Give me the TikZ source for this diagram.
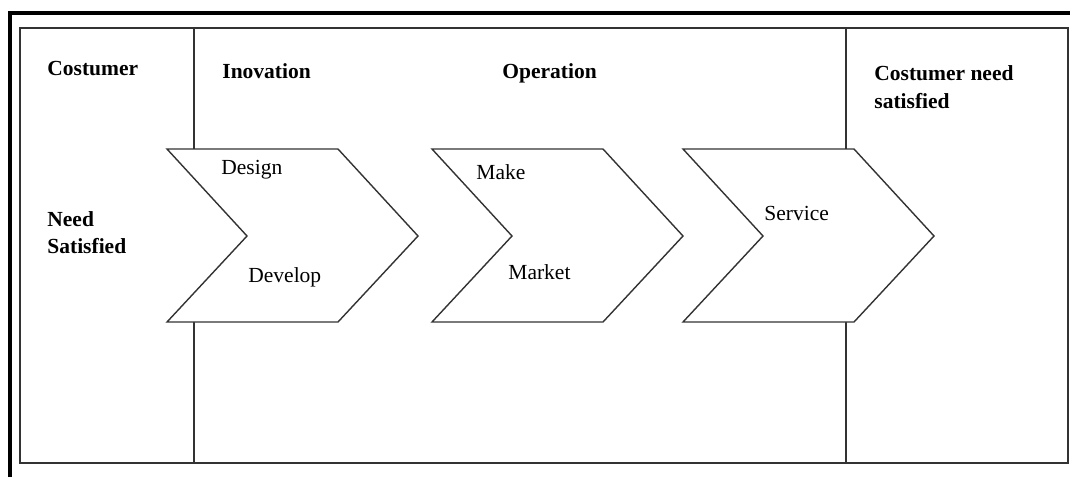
\documentclass[tikz,border=0pt]{standalone}
\usepackage{fontspec}
\setmainfont{Liberation Serif}
\begin{document}
\begin{tikzpicture}[x=0.5pt,y=-0.5pt,
  rule/.style={draw=black!80, line width=0.7pt},
  frameline/.style={draw=black, line width=2pt, line join=miter},
  chevron/.style={rule, fill=white, line join=miter},
  head/.style={anchor=base west, inner sep=0pt, font=\fontsize{10.75}{13}\selectfont\bfseries},
  lbl/.style={anchor=base west, inner sep=0pt, font=\fontsize{10.75}{13}\selectfont}]
\useasboundingbox (0,0) rectangle (1070,477);
% heavy frame along the top and left
\draw[frameline] (10,477) -- (10,13) -- (1070,13);
% outer box and column dividers (broken where the chevron band crosses)
\draw[rule] (20,28) rectangle (1068,463);
\draw[rule] (194,28) -- (194,149) (194,322) -- (194,463);
\draw[rule] (846,28) -- (846,149) (846,322) -- (846,463);
% process chevrons
\foreach \x/\n in {167/c1,432/c2,683/c3}{
  \draw[chevron] (\x,149) -- ++(171,0) -- ++(80,87) -- ++(-80,86) -- ++(-171,0) -- ++(80,-86) -- cycle;
  \coordinate (\n) at (\x+125,236);
}
% column headings
\node[head] (h1) at (47,75) {Costumer};
\node[head] (h2) at (222,78) {Inovation};
\node[head] (h3) at (502,78) {Operation};
\node[head] (h4) at (874,80) {Costumer need};
\node[head] (h5) at (874,108) {satisfied};
\node[head] (h6) at (47,226) {Need};
\node[head] (h7) at (47,253) {Satisfied};
% chevron labels
\node[lbl] (l1) at (221,174) {Design};
\node[lbl] (l2) at (248,282) {Develop};
\node[lbl] (l3) at (476,179) {Make};
\node[lbl] (l4) at (508,279) {Market};
\node[lbl] (l5) at (764,220) {Service};
\end{tikzpicture}
\end{document}
